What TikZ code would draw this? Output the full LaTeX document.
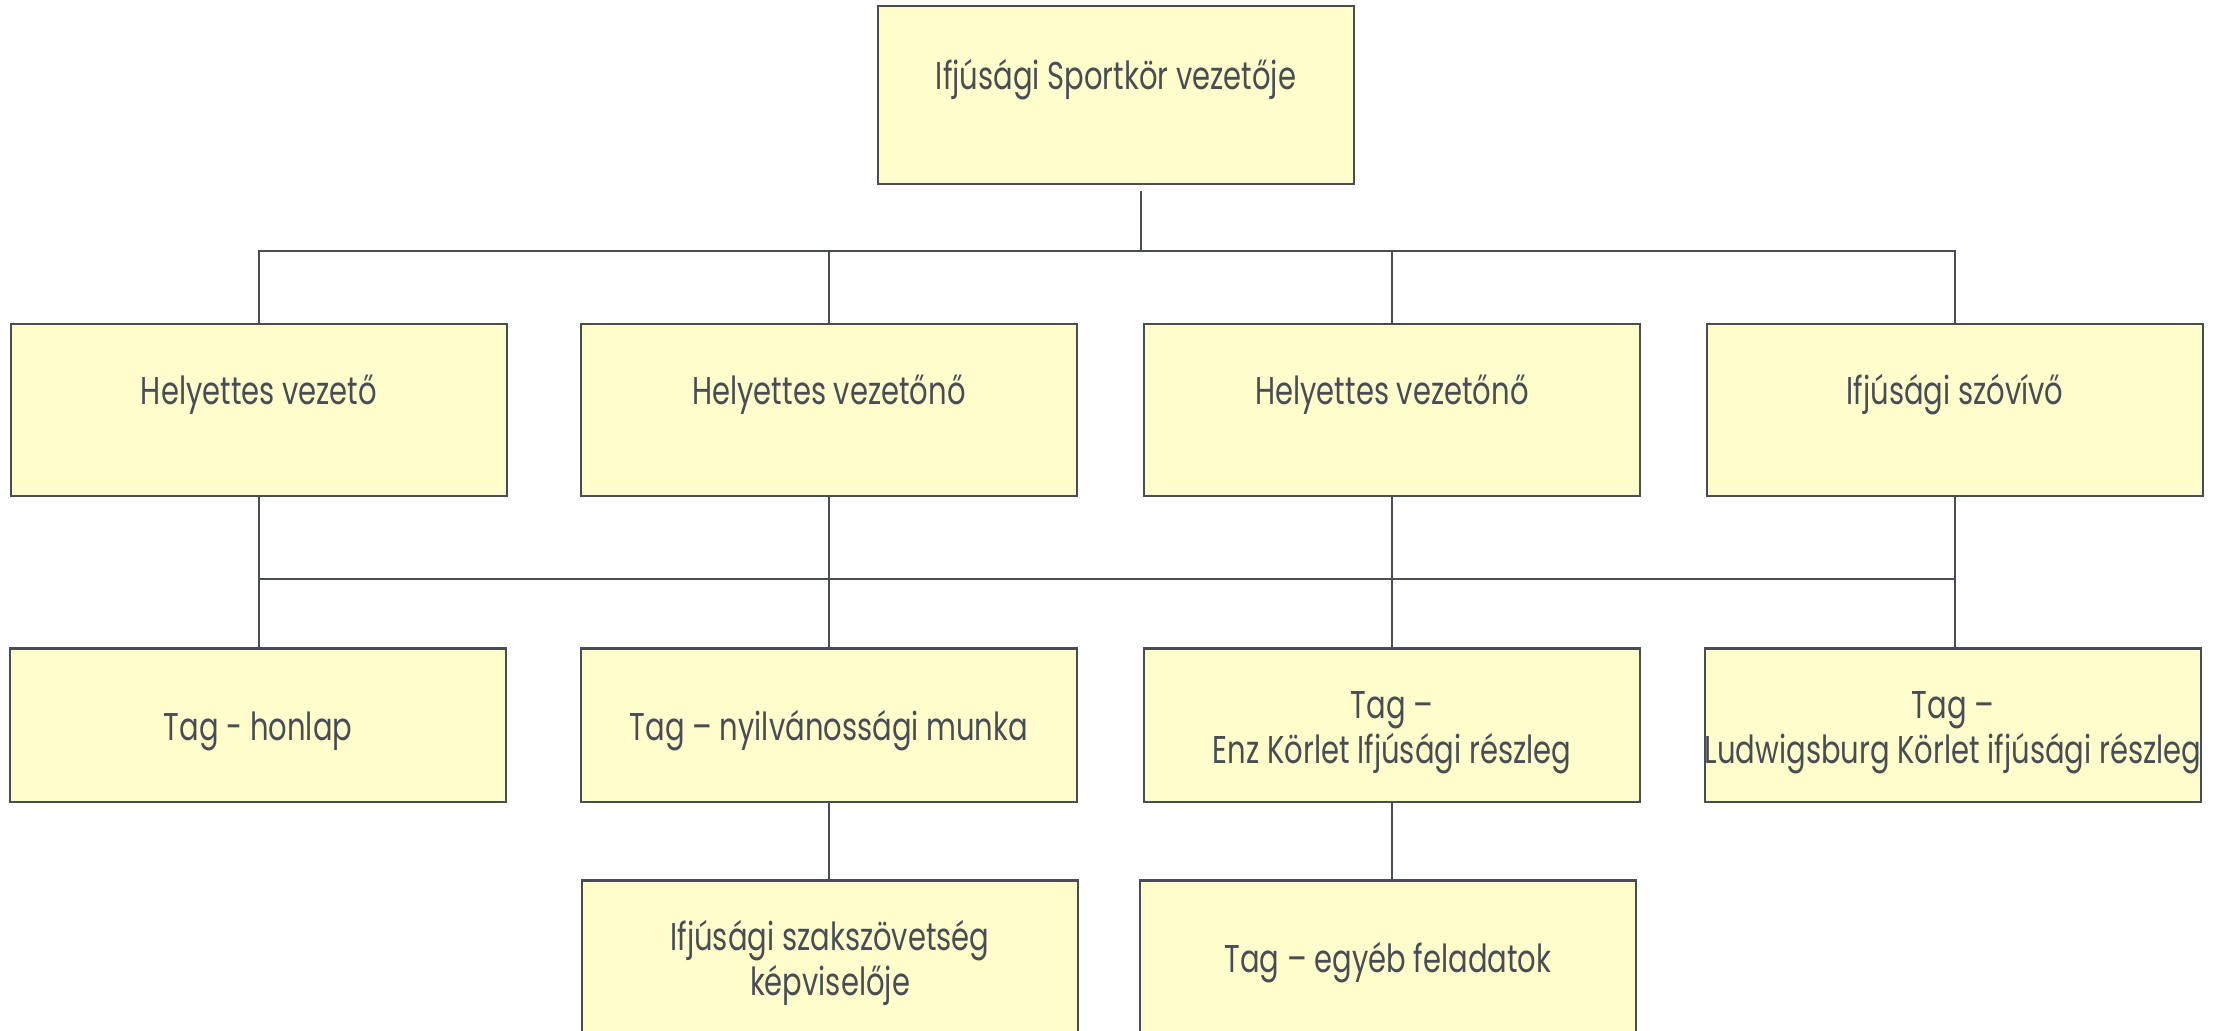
\documentclass[tikz,border=0pt]{standalone}
\usepackage{fontspec}
\setmainfont[FakeStretch=0.75]{Poppins}
\usepackage{tikz}
\usetikzlibrary{calc}
\usetikzlibrary{positioning}
\definecolor{ink}{RGB}{72,77,84}
\definecolor{paper}{RGB}{255,253,204}

\tikzset{
	unit/.style={draw=ink,fill=paper,line width=0.6pt,text=ink,align=center,inner sep=0pt,
		font=\fontsize{11}{12.8}\selectfont},
	topbox/.style={unit,minimum width=4.76cm,minimum height=1.78cm,text height=8pt,text depth=11.1pt},
	midbox/.style={unit,minimum width=4.96cm,minimum height=1.72cm,text height=8pt,text depth=11.1pt},
	lowbox/.style={unit,minimum width=4.96cm,minimum height=1.53cm,text height=9pt,text depth=-0.8pt},
	lowpair/.style={lowbox,text height=21.9pt},
	link/.style={draw=ink,line width=0.5pt}
}

\begin{document}
\begin{tikzpicture}[x=0.01cm,y=-0.01cm]
	\useasboundingbox (0,0) rectangle (2221,1030);
	
	\node[topbox] (chief) at (1116,95) {Ifjúsági Sportkör vezetője};
	
	\node[midbox] (dep1) at (259,410) {Helyettes vezető};
	\node[midbox] (dep2) at (829,410) {Helyettes vezetőnő};
	\node[midbox] (dep3) at (1392,410) {Helyettes vezetőnő};
	\node[midbox] (spoke) at (1955,410) {Ifjúsági szóvívő};
	
	\node[lowbox] (web) at (258,725) {Tag - honlap};
	\node[lowbox] (pr) at (829,725) {Tag – nyilvánossági munka};
	\node[lowpair] (enz) at (1392,725) {Tag –\\Enz Körlet Ifjúsági részleg};
	\node[lowpair] (lb) at (1953,725) {Tag –\\Ludwigsburg Körlet ifjúsági részleg};
	
	\node[lowpair] (fed) at (830,957) {Ifjúsági szakszövetség\\képviselője};
	\node[lowbox] (other) at (1388,957) {Tag – egyéb feladatok};
	
	% bus lines
	\coordinate (busA) at (0,251);
	\coordinate (busB) at (0,579);
	\coordinate (tap) at ($(chief.south)+(25,6)$);
	
	\draw[link] (tap) -- (tap |- busA);
	\draw[link] (dep1.north) -- (dep1.north |- busA) -- (spoke.north |- busA) -- (spoke.north);
	\draw[link] (dep2.north) -- (dep2.north |- busA);
	\draw[link] (dep3.north) -- (dep3.north |- busA);
	
	\draw[link] (dep1.south |- busB) -- (spoke.south |- busB);
	\draw[link] (dep1.south) -- (dep1.south |- web.north);
	\draw[link] (dep2.south) -- (dep2.south |- pr.north);
	\draw[link] (dep3.south) -- (dep3.south |- enz.north);
	\draw[link] (spoke.south) -- (spoke.south |- lb.north);
	
	\draw[link] (pr.south) -- (pr.south |- fed.north);
	\draw[link] (enz.south) -- (enz.south |- other.north);
	
\end{tikzpicture}
\end{document}
